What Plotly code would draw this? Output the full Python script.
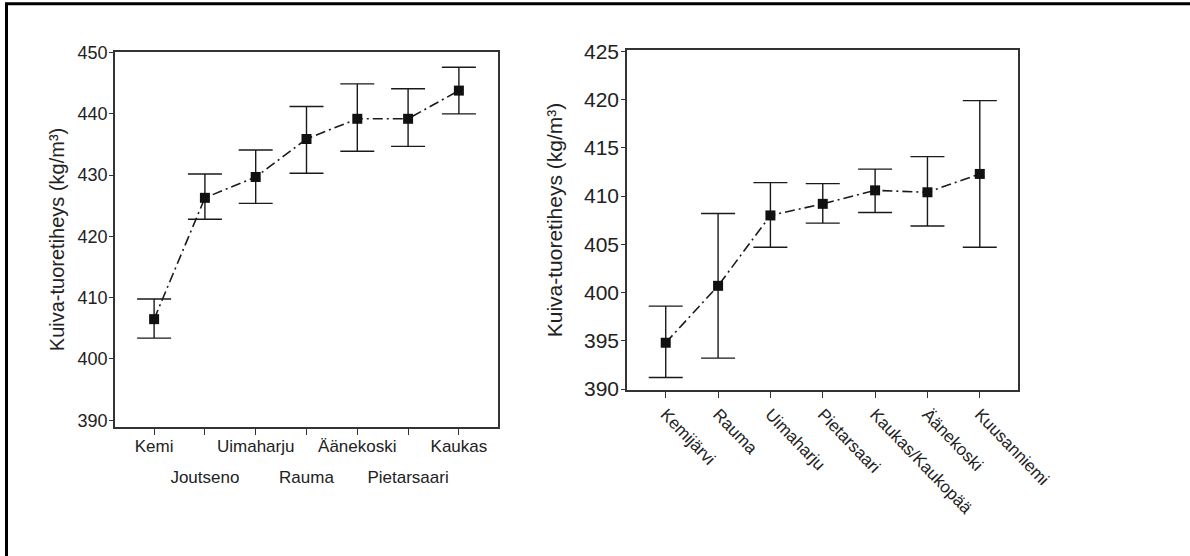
import plotly.graph_objects as go

# ---------------- data ----------------
left_sites = ["Kemi", "Joutseno", "Uimaharju", "Rauma", "Äänekoski", "Pietarsaari", "Kaukas"]
left_mean = [406.5, 426.3, 429.7, 435.9, 439.2, 439.2, 443.8]
left_upper = [409.8, 430.2, 434.1, 441.2, 444.9, 444.1, 447.6]
left_lower = [403.4, 422.8, 425.4, 430.3, 433.9, 434.7, 440.0]

right_sites = ["Kemijärvi", "Rauma", "Uimaharju", "Pietarsaari", "Kaukas/Kaukopää", "Äänekoski", "Kuusanniemi"]
right_mean = [394.8, 400.7, 408.0, 409.2, 410.6, 410.4, 412.3]
right_upper = [398.6, 408.2, 411.4, 411.3, 412.8, 414.1, 419.9]
right_lower = [391.2, 393.2, 404.7, 407.2, 408.3, 406.9, 404.7]

left_yticks = [390, 400, 410, 420, 430, 440, 450]
right_yticks = [390, 395, 400, 405, 410, 415, 420, 425]
y_title = "Kuiva-tuoretiheys (kg/m³)"

FONT = "Liberation Sans, Arial, Helvetica, sans-serif"
INK = "#1a1a1a"
W, H = 1190, 556


def px_x(p):
    return p / W


def px_y(p):
    return 1 - p / H


fig = go.Figure()

line_style = dict(color=INK, width=1.6, dash="10px,4px,2px,4px")
marker_style = dict(symbol="square", size=10, color="#111111")


def add_series(sites, mean, upper, lower, xa, ya):
    fig.add_trace(go.Scatter(
        x=sites, y=mean, xaxis=xa, yaxis=ya,
        mode="lines+markers",
        line=line_style, marker=marker_style,
        error_y=dict(type="data", symmetric=False,
                     array=[u - m for u, m in zip(upper, mean)],
                     arrayminus=[m - l for m, l in zip(mean, lower)],
                     color=INK, thickness=1.4, width=17),
        showlegend=False, hoverinfo="x+y",
    ))


add_series(left_sites, left_mean, left_upper, left_lower, "x", "y")
add_series(right_sites, right_mean, right_upper, right_lower, "x2", "y2")

# invisible helper trace for the second (staggered) label row of the left chart
fig.add_trace(go.Scatter(x=left_sites, y=left_mean, xaxis="x3", yaxis="y",
                         mode="markers", marker=dict(opacity=0),
                         showlegend=False, hoverinfo="skip"))

axis_common = dict(showgrid=False, zeroline=False, showline=True, linecolor="#333333",
                   linewidth=1.6, mirror=True, ticks="outside", tickcolor="#333333",
                   tickwidth=1.4, automargin=False)

# left chart
left_dom_x = [px_x(115), px_x(498)]
left_dom_y = [px_y(427), px_y(52)]
odd_text = [s if i % 2 == 0 else "" for i, s in enumerate(left_sites)]
even_vals = [s for i, s in enumerate(left_sites) if i % 2 == 1]

fig.update_layout(
    xaxis=dict(**axis_common, domain=left_dom_x, anchor="y", type="category",
               categoryorder="array", categoryarray=left_sites,
               range=[-0.77, 6.77], tickvals=left_sites, ticktext=odd_text,
               ticklen=6, ticklabelstandoff=-3, tickfont=dict(size=17, color="#222")),
    xaxis3=dict(domain=left_dom_x, anchor="y", overlaying="x", side="bottom",
                type="category", categoryorder="array", categoryarray=left_sites,
                range=[-0.77, 6.77], tickvals=even_vals, ticktext=even_vals,
                ticks="", showline=False, showgrid=False, zeroline=False,
                automargin=False,
                ticklabelstandoff=38, tickfont=dict(size=17, color="#222")),
    yaxis=dict(**axis_common, domain=left_dom_y, anchor="x",
               range=[388.9, 450.1], tickvals=left_yticks, ticklen=4,
               ticklabelstandoff=-2,
               tickfont=dict(size=18, color="#222"),
               title=dict(text=y_title, font=dict(size=20, color="#222"), standoff=8)),
)

# right chart
right_dom_x = [px_x(627), px_x(1018)]
right_dom_y = [px_y(390), px_y(50)]
fig.update_layout(
    xaxis2=dict(**axis_common, domain=right_dom_x, anchor="y2", type="category",
                categoryorder="array", categoryarray=right_sites,
                range=[-0.74, 6.73], tickvals=right_sites, ticktext=right_sites,
                tickangle=46, ticklen=6, tickfont=dict(size=17, color="#222")),
    yaxis2=dict(**axis_common, domain=right_dom_y, anchor="x2",
                range=[389.9, 425.15], tickvals=right_yticks, ticklen=4,
                ticklabelstandoff=-2,
                tickfont=dict(size=21, color="#222"),
                title=dict(text=y_title, font=dict(size=21, color="#222"), standoff=16)),
)

# outer frame of the figure (only top and left edges are inside the image)
fig.add_shape(type="rect", xref="paper", yref="paper",
              x0=px_x(6.5), x1=1.05, y0=-0.05, y1=px_y(3.7),
              line=dict(color="#000", width=3))

fig.update_layout(
    template="none",
    width=W, height=H, autosize=False,
    margin=dict(l=0, r=0, t=0, b=0, pad=0, autoexpand=False),
    paper_bgcolor="white", plot_bgcolor="white",
    font=dict(family=FONT, color="#222"),
)

fig.write_html("out.html", config={"displayModeBar": False},
               post_script="document.body.style.margin='0';")
